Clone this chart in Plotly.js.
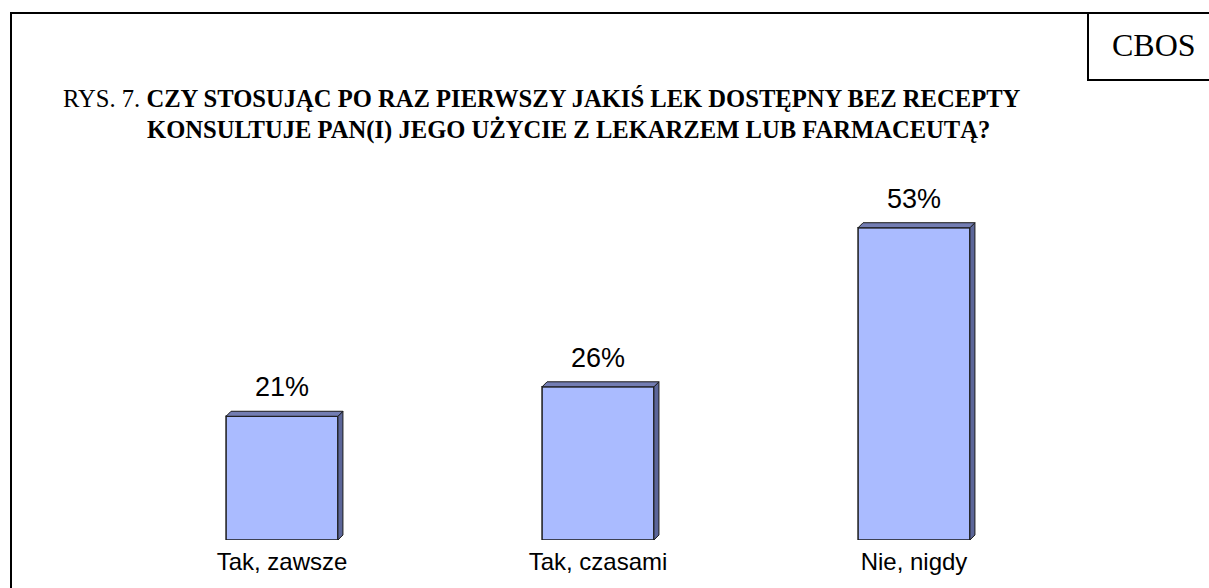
<!DOCTYPE html>
<html>
<head>
<meta charset="utf-8">
<script src="https://cdn.plot.ly/plotly-3.0.1.min.js"></script>
<style>
html,body{margin:0;padding:0;background:#fff;}
#chart{width:1209px;height:588px;}
</style>
</head>
<body>
<div id="chart"></div>
<script>
// ---- data ----
const categories = ["Tak, zawsze", "Tak, czasami", "Nie, nigdy"];
const values = [21, 26, 53];
const valueLabels = ["21%", "26%", "53%"];
const titlePrefix = "RYS. 7. ";
const titleLine1 = "CZY STOSUJĄC PO RAZ PIERWSZY JAKIŚ LEK DOSTĘPNY BEZ RECEPTY";
const titleLine2 = "KONSULTUJE PAN(I) JEGO UŻYCIE Z LEKARZEM LUB FARMACEUTĄ?";
const sourceLabel = "CBOS";

// ---- layout geometry ----
const W = 1209, H = 588;
const mL = 124, mR = 137, mT = 180, mB = 48;
const plotW = W - mL - mR, plotH = H - mT - mB;
const yMax = 61.1;
const px2x = px => (px - mL) / plotW;
const px2y = py => (H - mB - py) / plotH;

const xs = categories.map((c, i) => i);
const barW = 0.354;
const dx = 5 / (plotW / 3);        // depth offset in x data units
const dy = 5 / (plotH / yMax);     // depth offset in y data units

const front = '#aabbff';
const side = '#5c6699';
const topc = '#737db3';
const edge = '#1a1a1a';

const shapes = [];
xs.forEach((x, i) => {
  const v = values[i];
  const xl = x - barW / 2, xr = x + barW / 2;
  shapes.push({type: 'path', xref: 'x', yref: 'y', layer: 'above',
    path: `M ${xr} 0 L ${xr + dx} ${dy} L ${xr + dx} ${v + dy} L ${xr} ${v} Z`,
    fillcolor: side, line: {color: edge, width: 1}});
  shapes.push({type: 'path', xref: 'x', yref: 'y', layer: 'above',
    path: `M ${xl} ${v} L ${xl + dx} ${v + dy} L ${xr + dx} ${v + dy} L ${xr} ${v} Z`,
    fillcolor: topc, line: {color: edge, width: 1}});
});
shapes.push({type: 'rect', xref: 'paper', yref: 'paper',
  x0: px2x(11), x1: px2x(1230), y0: px2y(13), y1: px2y(620),
  line: {color: '#000', width: 2}, fillcolor: 'rgba(0,0,0,0)'});
shapes.push({type: 'path', xref: 'paper', yref: 'paper',
  path: `M ${px2x(1088)} ${px2y(13)} L ${px2x(1088)} ${px2y(80)} L ${px2x(1230)} ${px2y(80)}`,
  line: {color: '#000', width: 2}});

const annotations = [];
xs.forEach((x, i) => {
  annotations.push({x: x, y: values[i] + dy, xref: 'x', yref: 'y', text: valueLabels[i],
    showarrow: false, yanchor: 'bottom', yshift: 7,
    font: {family: 'Liberation Sans, Arial, sans-serif', size: 27, color: '#000'}});
});
annotations.push({xref: 'paper', yref: 'paper', x: px2x(61), y: px2y(99), xanchor: 'left', yanchor: 'middle',
  text: titlePrefix + '<b>' + titleLine1 + '</b>', showarrow: false,
  font: {family: 'Liberation Serif, Times New Roman, serif', size: 24.6, color: '#000'}});
annotations.push({xref: 'paper', yref: 'paper', x: px2x(145), y: px2y(130), xanchor: 'left', yanchor: 'middle',
  text: '<b>' + titleLine2 + '</b>', showarrow: false,
  font: {family: 'Liberation Serif, Times New Roman, serif', size: 24.6, color: '#000'}});
annotations.push({xref: 'paper', yref: 'paper', x: px2x(1154), y: px2y(45), xanchor: 'center', yanchor: 'middle',
  text: sourceLabel, showarrow: false,
  font: {family: 'Liberation Serif, Times New Roman, serif', size: 32, color: '#000'}});

const trace = {
  type: 'bar', x: xs, y: values, width: barW,
  marker: {color: front, line: {color: edge, width: 1.5}},
  hoverinfo: 'skip'
};

const layout = {
  width: W, height: H,
  margin: {l: mL, r: mR, t: mT, b: mB, pad: 0},
  paper_bgcolor: '#fff', plot_bgcolor: 'rgba(0,0,0,0)',
  showlegend: false,
  xaxis: {range: [-0.5, 2.5], tickvals: xs, ticktext: categories, showgrid: false,
    zeroline: false, showline: false, ticks: '', ticklabelstandoff: 5,
    tickfont: {family: 'Liberation Sans, Arial, sans-serif', size: 24, color: '#000'}},
  yaxis: {range: [0, yMax], visible: false, showgrid: false, zeroline: false},
  shapes: shapes,
  annotations: annotations
};

Plotly.newPlot('chart', [trace], layout, {displayModeBar: false, staticPlot: true});
</script>
</body>
</html>
